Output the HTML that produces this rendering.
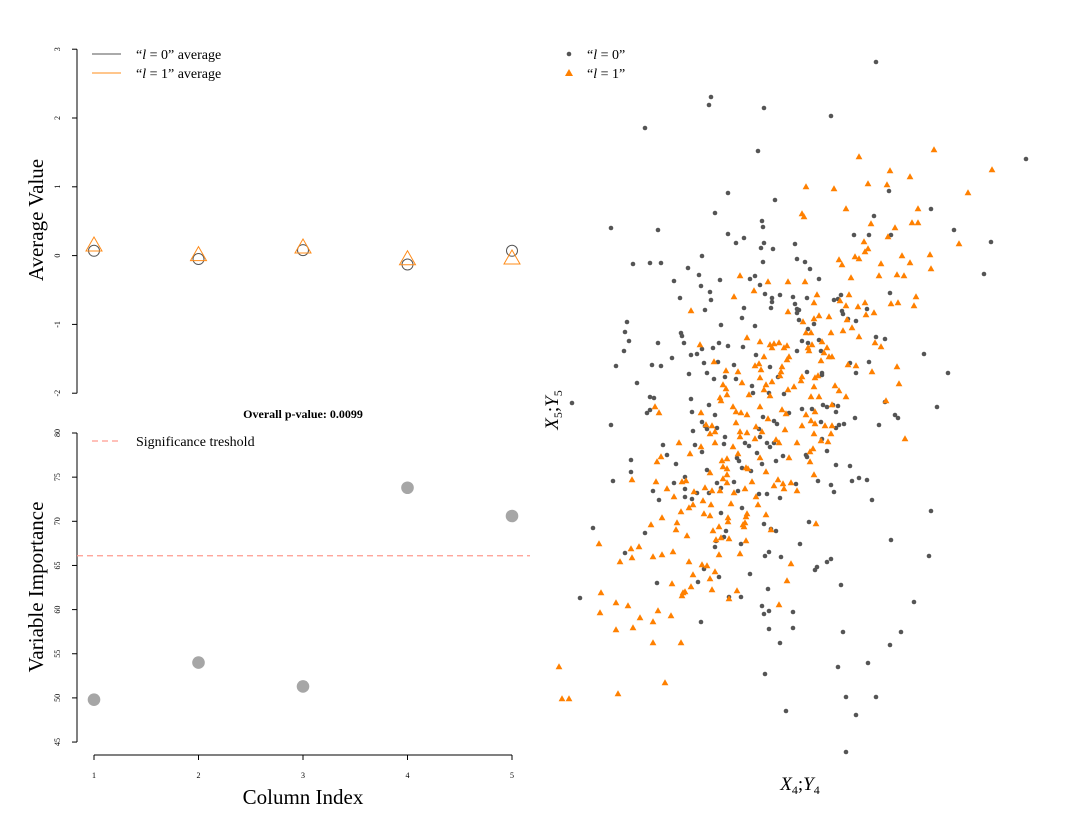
<!DOCTYPE html>
<html><head><meta charset="utf-8"><style>
body{margin:0;background:#fff}
svg{display:block;font-family:"Liberation Serif",serif}
</style></head><body>
<svg id="c" width="1070" height="818" viewBox="0 0 1070 818" xmlns="http://www.w3.org/2000/svg"></svg>
<script>
// ---- top panel data ----
const columns=[1,2,3,4,5];
const avgL0=[0.07,-0.05,0.08,-0.13,0.07];
const avgL1=[0.14,0.0,0.11,-0.06,-0.05];
const avgTicks=[-2,-1,0,1,2,3];
// ---- bottom panel data ----
const importance=[49.8,54.0,51.3,73.8,70.6];
const threshold=66.1;
const impTicks=[45,50,55,60,65,70,75,80];
// ---- scatter data ----
const greyX=[15.4,15.2,20.7,8.8,20.1,17.1,21.8,15.8,20.5,20.6,5.4,10.1,17.1,18.7,17.9,20.7,20.4,21.6,23.8,14.5,7.6,9.3,10.4,20.6,24.0,13.1,14.2,11.7,16.3,19.3,19.8,14.4,20.3,15.3,20.8,22.3,12.3,15.4,21.5,21.5,23.6,23.8,21.4,18.7,14.8,24.0,18.5,7.0,16.4,19.8,6.8,12.4,12.5,7.2,10.1,12.7,16.2,6.7,17.1,18.6,15.6,14.5,24.0,19.9,13.4,14.0,11.5,5.9,9.5,10.4,14.7,16.1,17.7,21.3,13.2,15.0,16.8,22.1,15.7,17.9,8.0,19.5,19.6,21.2,22.7,1.5,9.3,9.7,13.4,15.2,
31.9,27.4,46.9,33.2,37.4,31.7,39.7,29.7,31.2,33.4,43.4,24.8,25.3,42.7,26.2,33.3,25.0,28.4,27.7,28.1,24.2,24.0,28.5,28.6,31.0,24.2,25.7,29.1,29.9,25.1,31.9,32.8,24.5,25.1,26.2,26.4,36.7,29.3,31.2,25.0,26.5,26.5,29.9,39.1,26.6,27.0,28.1,27.6,38.0,24.5,25.5,32.8,
5.4,9.0,9.3,13.5,15.8,14.5,14.8,15.0,16.0,13.6,16.8,16.7,13.8,14.5,10.6,11.0,7.4,11.9,7.4,5.6,15.0,16.0,17.7,12.8,11.7,9.6,12.8,10.2,12.8,13.5,14.0,15.2,16.4,18.1,20.2,21.0,22.3,20.6,21.7,22.0,20.2,20.3,21.0,21.3,21.7,18.8,19.2,20.0,18.0,18.2,18.5,19.4,20.5,21.9,22.6,23.2,18.5,16.4,16.9,16.7,15.9,15.8,18.4,20.7,21.4,21.9,21.2,20.8,22.4,8.8,3.6,6.8,14.7,16.2,14.1,10.0,19.3,2.3,17.2,18.4,21.1,20.5,20.7,21.2,23.6,21.2,23.6,14.4,22.3,20.8,22.9,24.3,
33.8,34.1,32.2,29.8,27.9,28.7,28.2,27.9,26.4,26.5,27.0,24.9,25.0,27.9,29.3,30.2,31.0,29.5,26.1,27.4,23.9,27.7,31.5,37.4,25.2,33.4,37.2,27.4,27.0,26.0,25.8,28.4,35.7,28.6,34.4,33.3,31.1,28.1,28.9,31.9,29.9,28.9];
const greyY=[65.5,64.7,64.4,62.4,60.1,55.9,55.2,53.9,53.1,52.5,52.4,52.2,51.8,51.4,50.9,50.9,50.4,50.3,50.8,49.6,48.8,48.9,48.9,49.0,49.3,48.4,47.7,47.1,47.2,47.3,47.6,46.6,46.7,46.0,45.8,45.7,45.4,45.2,45.4,45.0,45.5,44.8,44.4,44.4,44.2,44.3,43.4,43.0,42.7,42.6,42.0,41.9,41.6,41.1,40.9,40.9,40.9,40.1,40.6,40.5,40.4,40.3,40.1,39.7,39.7,39.8,39.4,38.6,38.7,38.6,38.9,39.0,38.7,38.5,37.8,37.9,37.5,37.5,37.3,37.3,36.9,36.6,35.9,35.9,35.8,34.9,35.5,35.4,35.3,34.7,
69.0,63.6,59.3,56.1,54.3,53.6,52.2,51.7,51.7,51.7,51.0,49.0,48.3,47.8,47.3,45.9,45.4,45.7,45.2,45.3,44.2,43.9,44.1,43.8,44.3,43.2,42.8,43.3,43.1,42.3,41.5,41.3,41.1,40.9,41.2,40.1,39.8,38.9,39.0,38.0,37.9,37.7,37.9,37.9,34.7,34.5,34.6,34.7,34.5,34.3,34.3,35.0,
32.7,33.9,34.2,34.0,33.7,33.0,32.6,32.3,32.4,32.1,31.5,30.8,30.7,30.0,30.7,29.7,29.2,28.8,28.0,27.1,28.2,26.9,27.0,27.5,26.9,26.1,26.3,25.2,25.5,25.3,25.9,25.9,26.4,26.1,25.8,25.8,25.4,33.5,33.1,32.8,32.3,31.5,30.9,30.5,30.9,30.9,30.6,29.9,29.4,29.1,28.4,28.1,28.8,29.1,29.6,33.9,24.4,23.9,22.1,21.5,21.1,20.5,20.8,22.8,22.3,22.1,20.0,19.6,19.5,21.9,22.4,19.9,18.3,17.5,17.0,16.9,17.8,15.4,15.5,15.5,16.3,14.6,13.8,14.1,14.0,12.3,12.4,13.0,10.9,7.8,4.1,20.8,
33.7,33.4,32.7,33.4,34.0,32.8,32.7,32.4,33.0,31.3,30.1,29.7,29.5,28.7,28.6,27.4,27.2,27.1,27.1,26.7,26.8,26.0,25.2,24.1,23.0,21.2,19.6,19.3,19.0,18.5,18.2,16.7,15.0,12.0,12.0,10.7,8.9,8.5,5.5,5.5,3.7,0.0];
const orangeX=[18.3,21.1,23.1,19.7,17.7,13.4,23.1,19.0,14.3,20.3,21.3,21.7,22.2,22.7,23.0,21.5,20.7,15.7,19.8,20.2,22.5,23.2,23.0,16.9,18.1,20.4,22.4,22.3,20.3,18.5,21.5,16.6,16.9,20.9,20.7,23.7,23.1,17.0,19.2,21.3,16.3,16.4,9.8,17.6,20.3,
37.7,30.2,43.5,33.3,35.3,24.9,27.7,31.1,33.0,41.1,28.9,36.1,24.5,24.7,31.4,35.5,36.1,33.8,33.1,30.7,40.2,31.1,30.8,29.8,30.2,28.2,28.5,34.5,37.3,35.3,32.4,37.4,29.4,32.2,34.0,34.7,24.8,26.0,29.2,25.7,28.3,28.9,30.1,30.8,33.4,34.1,35.9,35.7,30.9,31.7,26.2,27.2,25.7,24.6,29.0,28.6,29.5,24.9,25.4,27.4,30.2,26.5,25.5,27.0,25.1,25.2,26.7,31.8,32.4,27.2,27.5,26.4,29.1,29.9,34.0,31.5,26.1,25.8,24.5,24.4,25.7,34.2,27.8,28.2,25.4,26.2,28.9,27.5,32.9,
10.2,14.4,17.9,18.4,19.0,21.1,22.5,22.9,14.9,15.5,17.9,15.8,15.3,18.3,19.0,19.9,20.5,22.8,18.3,19.8,21.9,22.2,24.0,12.2,15.8,17.6,14.4,13.3,18.1,10.4,10.0,16.5,17.0,16.6,17.0,18.9,19.1,20.3,23.2,15.3,17.0,20.9,7.5,9.9,12.5,12.9,16.6,17.0,19.5,22.1,21.7,22.6,23.4,24.0,22.7,11.0,11.7,13.7,14.8,15.5,16.3,17.7,18.8,19.9,14.6,13.6,13.2,15.4,17.4,20.1,12.4,10.5,14.7,15.3,17.1,17.1,19.0,18.9,20.9,12.0,9.4,18.6,18.8,11.9,15.6,16.2,18.7,21.4,13.0,15.9,16.4,17.2,18.9,4.2,7.4,8.2,7.5,6.3,9.6,10.5,11.6,16.2,18.3,13.2,14.5,15.0,15.8,13.6,15.3,11.5,13.4,15.5,12.8,12.6,12.5,18.0,17.2,23.0,23.4,4.4,5.9,7.1,4.3,10.1,11.4,8.3,9.6,5.9,7.6,22.2,9.6,12.4,0.2,10.8,6.1,0.5,1.2,
24.9,25.8,25.4,25.8,24.5,26.8,27.5,25.7,27.4,26.4,27.1,25.6,25.3,25.3,25.7,34.8,25.9];
const orangeY=[47.6,47.0,47.0,46.1,45.5,44.1,44.0,41.4,40.7,41.0,40.7,40.8,40.9,40.4,40.6,40.4,39.5,39.0,38.6,38.8,38.5,39.5,39.2,38.1,38.0,38.2,38.0,37.6,37.4,36.9,37.0,36.7,36.3,36.7,36.2,36.5,36.2,35.7,35.7,35.6,35.4,35.1,34.5,34.5,34.5,
60.2,59.5,58.2,58.1,57.5,56.5,56.3,56.8,56.7,55.9,54.3,54.3,53.8,53.5,52.8,52.9,52.9,52.4,51.5,51.0,50.8,50.3,50.0,49.5,49.3,49.2,48.7,49.6,49.7,48.9,48.8,48.3,47.4,47.6,47.7,47.6,47.0,45.7,45.7,44.9,45.1,44.6,44.5,44.9,44.8,44.9,45.5,44.6,43.7,43.9,43.6,43.5,43.3,43.0,43.2,42.1,42.4,41.9,41.9,41.9,41.5,41.0,40.7,40.4,40.4,40.1,39.9,40.9,40.5,39.5,39.5,39.1,38.7,38.6,38.5,38.0,37.6,37.4,37.5,37.1,36.5,36.8,36.6,36.1,35.5,35.5,35.5,34.7,35.1,
33.9,33.9,34.0,33.9,33.7,33.3,34.2,33.8,32.7,32.6,32.9,32.0,31.8,32.0,31.9,32.5,32.0,32.2,31.5,31.3,31.2,30.9,30.9,30.9,30.9,30.5,30.5,29.8,29.8,29.5,29.0,29.1,29.3,28.5,28.3,28.4,28.3,29.4,29.4,27.9,27.7,28.0,27.2,27.0,27.0,27.1,27.3,26.9,27.0,27.2,26.6,26.8,26.9,26.1,26.3,26.3,25.5,26.0,26.4,26.1,26.1,25.9,26.3,25.5,25.1,24.7,24.4,24.7,24.8,24.7,24.0,23.4,23.8,23.6,23.4,23.0,23.8,23.5,23.7,22.9,22.7,22.7,22.9,22.2,22.1,22.5,22.5,22.2,21.6,21.2,21.4,21.3,21.1,20.8,20.3,20.5,19.4,19.0,19.5,19.7,20.0,19.7,19.8,19.0,18.7,18.6,18.0,17.7,17.3,16.8,16.5,16.2,16.0,15.9,15.6,16.1,15.3,17.1,18.8,15.9,14.9,14.6,13.9,14.1,13.6,13.4,13.0,12.2,12.4,14.7,10.9,10.9,8.5,6.9,5.8,5.3,5.3,
33.7,34.0,33.1,32.8,32.6,32.6,32.6,31.8,31.8,31.1,31.0,30.3,30.0,29.0,27.7,31.3,22.8];

const NS="http://www.w3.org/2000/svg";
const svg=document.getElementById('c');
function mk(tag,attrs,parent){const e=document.createElementNS(NS,tag);for(const k in attrs)e.setAttribute(k,attrs[k]);(parent||svg).appendChild(e);return e;}
function txt(s,attrs,parent){const e=mk('text',attrs,parent);e.textContent=s;return e;}

const xCol=c=>94+(c-1)*104.5;
const yAvg=v=>255.6-v*68.8;
const yImp=v=>433+(80-v)*8.83;
const xS=v=>557+(v-0)*(1027-557)/47;
const yS=v=>752-(v-0)*(752-62)/69;

// ===== top panel =====
const topG=mk('g',{});


mk('line',{x1:77,y1:yAvg(3),x2:77,y2:yAvg(-2),stroke:'#000','stroke-width':1},topG);
avgTicks.forEach(t=>{
  mk('line',{x1:72,y1:yAvg(t),x2:77,y2:yAvg(t),stroke:'#000'},topG);
  const l=txt(String(t),{x:60,y:yAvg(t),'font-size':8,'text-anchor':'middle',transform:`rotate(-90 60 ${yAvg(t)})`},topG);
  
  
});
const yt=txt('Average Value',{x:43,y:220,'font-size':21,'text-anchor':'middle',transform:'rotate(-90 43 220)'},topG);


columns.forEach((c,i)=>{
  const cx=xCol(c);
  const ci=mk('circle',{cx:cx,cy:yAvg(avgL0[i]),r:5.5,fill:'none',stroke:'#555','stroke-width':1},topG);
  
  
  const cy=yAvg(avgL1[i]);
  const tr=mk('polygon',{points:`${cx},${cy-9} ${cx-8},${cy+5} ${cx+8},${cy+5}`,fill:'none',stroke:'#ff8c1a','stroke-width':1},topG);
  
  
});
const lg=mk('g',{},topG);


mk('line',{x1:92,y1:54,x2:121,y2:54,stroke:'#555'},lg);
mk('line',{x1:92,y1:73,x2:121,y2:73,stroke:'#ff8c1a'},lg);
const t0=mk('text',{x:136,y:59,'font-size':14},lg);
t0.innerHTML='“<tspan font-style="italic">l</tspan> = 0” average';
const t1=mk('text',{x:136,y:78,'font-size':14},lg);
t1.innerHTML='“<tspan font-style="italic">l</tspan> = 1” average';

// ===== bottom panel =====
const bot=mk('g',{});


const pt=txt('Overall p-value: 0.0099',{x:303,y:418,'font-size':12,'font-weight':'bold','text-anchor':'middle'},bot);


mk('line',{x1:77,y1:yImp(80),x2:77,y2:yImp(45),stroke:'#000'},bot);
impTicks.forEach(t=>{
  mk('line',{x1:72,y1:yImp(t),x2:77,y2:yImp(t),stroke:'#000'},bot);
  const l=txt(String(t),{x:60,y:yImp(t),'font-size':8,'text-anchor':'middle',transform:`rotate(-90 60 ${yImp(t)})`},bot);
  
  
});
mk('line',{x1:xCol(1),y1:755,x2:xCol(5),y2:755,stroke:'#000'},bot);
columns.forEach(c=>{
  mk('line',{x1:xCol(c),y1:755,x2:xCol(c),y2:760,stroke:'#000'},bot);
  const l=txt(String(c),{x:xCol(c),y:778,'font-size':8,'text-anchor':'middle'},bot);
  
  
});
const xt=txt('Column Index',{x:303,y:804,'font-size':21,'text-anchor':'middle'},bot);


const yt2=txt('Variable Importance',{x:43,y:587,'font-size':21,'text-anchor':'middle',transform:'rotate(-90 43 587)'},bot);


const th=mk('line',{x1:77,y1:yImp(threshold),x2:530,y2:yImp(threshold),stroke:'#ff9a8f','stroke-width':1.3,'stroke-dasharray':'6 4'},bot);


columns.forEach((c,i)=>{
  const p=mk('circle',{cx:xCol(c),cy:yImp(importance[i]),r:6.3,fill:'#a6a6a6'},bot);
  
  
});
const lg2=mk('g',{},bot);


mk('line',{x1:92,y1:441,x2:121,y2:441,stroke:'#ff9a8f','stroke-width':1.3,'stroke-dasharray':'6 4'},lg2);
txt('Significance treshold',{x:136,y:446,'font-size':14},lg2);

// ===== scatter =====
const sc=mk('g',{});


greyX.forEach((x,i)=>{
  const d=mk('circle',{cx:xS(x),cy:yS(greyY[i]),r:2.3,fill:'#555'},sc);
  
  
});
orangeX.forEach((x,i)=>{
  const cx=xS(x),cy=yS(orangeY[i]);
  const t=mk('polygon',{points:`${cx},${cy-3.8} ${cx-3.4},${cy+2.3} ${cx+3.4},${cy+2.3}`,fill:'#ff8000'},sc);
  
  
});
const sl=mk('g',{},sc);


mk('circle',{cx:569,cy:54,r:2.3,fill:'#555'},sl);
mk('polygon',{points:'569,69 565,76 573,76',fill:'#ff8000'},sl);
const s0=mk('text',{x:587,y:59,'font-size':14},sl);
s0.innerHTML='“<tspan font-style="italic">l</tspan> = 0”';
const s1=mk('text',{x:587,y:78,'font-size':14},sl);
s1.innerHTML='“<tspan font-style="italic">l</tspan> = 1”';
const sx=mk('text',{x:800,y:790,'font-size':19,'text-anchor':'middle'},sc);


sx.innerHTML='<tspan font-style="italic">X</tspan><tspan font-size="12" dy="4">4</tspan><tspan dy="-4">;</tspan><tspan font-style="italic">Y</tspan><tspan font-size="12" dy="4">4</tspan>';
const sy=mk('text',{x:558,y:410,'font-size':19,'text-anchor':'middle',transform:'rotate(-90 558 410)'},sc);


sy.innerHTML='<tspan font-style="italic">X</tspan><tspan font-size="12" dy="4">5</tspan><tspan dy="-4">;</tspan><tspan font-style="italic">Y</tspan><tspan font-size="12" dy="4">5</tspan>';
</script>
</body></html>
